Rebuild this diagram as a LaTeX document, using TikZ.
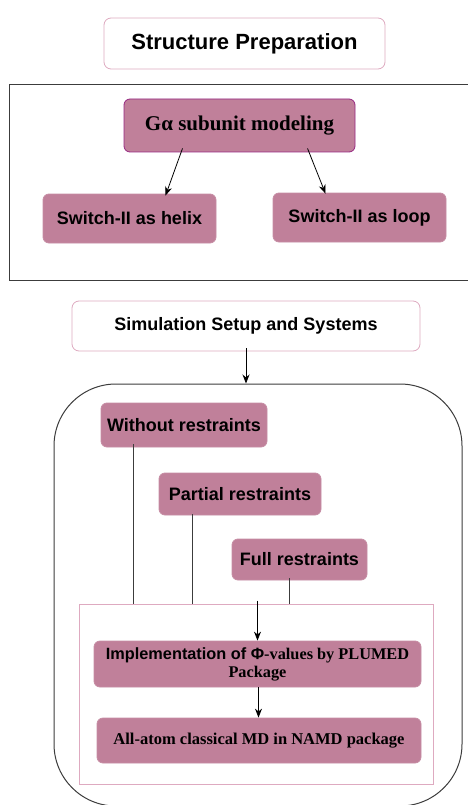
\documentclass[tikz,border=0pt]{standalone}
\usepackage{fontspec}
\setmainfont{Liberation Serif}
\setsansfont{Liberation Sans}
\usetikzlibrary{positioning,arrows.meta}
\definecolor{mauvebox}{RGB}{192,128,154}
\definecolor{pinkline}{RGB}{222,170,192}
\definecolor{plumline}{RGB}{150,40,130}
\definecolor{framegray}{RGB}{60,60,60}

\tikzset{
  headbox/.style={draw=pinkline,fill=white,rounded corners=7pt,line width=0.8pt,
    font=\sffamily\bfseries,align=center,inner sep=0pt},
  stepbox/.style={fill=mauvebox,draw=mauvebox!90!white,rounded corners=6pt,
    line width=0.8pt,align=center,inner sep=0pt},
  flow/.style={-{Stealth[length=9pt,width=7pt]},line width=0.8pt,black},
  link/.style={line width=0.8pt,framegray}
}

\begin{document}
\begin{tikzpicture}[x=1pt,y=-1pt]
  \useasboundingbox (0,0) rectangle (467,805);

  % structure preparation
  \node[headbox,minimum width=281,minimum height=51,font=\sffamily\bfseries\fontsize{22}{26}\selectfont]
    (prep) at (244.5,43.5) {Structure Preparation};
  \node[draw=framegray,line width=1pt,minimum width=466,minimum height=195]
    (prepframe) at (242,182.5) {};

  \node[stepbox,draw=plumline,minimum width=231,minimum height=53,
        font=\bfseries\fontsize{21}{25}\selectfont]
    (galpha) at (239.5,125.5) {Gα subunit modeling};
  \node[stepbox,minimum width=173,minimum height=49,font=\sffamily\bfseries\fontsize{18}{22}\selectfont]
    (helix) at (129.5,218.5) {Switch-II as helix};
  \node[stepbox,minimum width=173,minimum height=49,font=\sffamily\bfseries\fontsize{18}{22}\selectfont]
    (loop) at (359.5,217.5) {Switch-II as loop};

  \draw[flow] ([xshift=-57,yshift=4]galpha.south) -- ([xshift=36,yshift=-2]helix.north);
  \draw[flow] ([xshift=68,yshift=4]galpha.south) -- ([xshift=-34,yshift=-1]loop.north);

  % simulation setup
  \node[headbox,minimum width=348,minimum height=50,font=\sffamily\bfseries\fontsize{18}{22}\selectfont]
    (setup) at (246,326) {Simulation Setup and Systems};
  \node[draw=framegray,line width=1pt,rounded corners=62pt,minimum width=408,minimum height=422]
    (simframe) at (258,595) {};
  \draw[flow] ([yshift=3]setup.south) -- (setup.south |- simframe.north);

  \node[stepbox,minimum width=166,minimum height=44,font=\sffamily\bfseries\fontsize{18}{22}\selectfont]
    (without) at (184,425) {Without restraints};
  \node[stepbox,minimum width=162,minimum height=42,font=\sffamily\bfseries\fontsize{18}{22}\selectfont]
    (partial) at (240,494) {Partial restraints};
  \node[stepbox,minimum width=135,minimum height=41,font=\sffamily\bfseries\fontsize{18}{22}\selectfont]
    (full) at (299.5,559.5) {Full restraints};

  \node[draw=pinkline,line width=0.8pt,minimum width=354,minimum height=180]
    (mdframe) at (256,694) {};

  \draw[link] ([xshift=33,yshift=3]without.south west) -- ([xshift=33]without.south west |- mdframe.north);
  \draw[link] ([xshift=34,yshift=1]partial.south west) -- ([xshift=34]partial.south west |- mdframe.north);
  \draw[link] ([xshift=-10,yshift=2]full.south) -- ([xshift=-10]full.south |- mdframe.north);

  \node[stepbox,minimum width=327,minimum height=46,font=\bfseries\fontsize{16.3}{18}\selectfont]
    (plumed) at (257.5,664) {{\sffamily Implementation of Φ}-values by PLUMED\\Package};
  \node[stepbox,minimum width=324,minimum height=45,font=\bfseries\fontsize{16.5}{20}\selectfont]
    (namd) at (259,740.5) {All-atom classical MD in NAMD package};

  \draw[flow] ([yshift=3]plumed.north |- mdframe.north) -- (plumed.north);
  \draw[flow] ([xshift=1]plumed.south) -- ([xshift=1]plumed.south |- namd.north);
\end{tikzpicture}
\end{document}
